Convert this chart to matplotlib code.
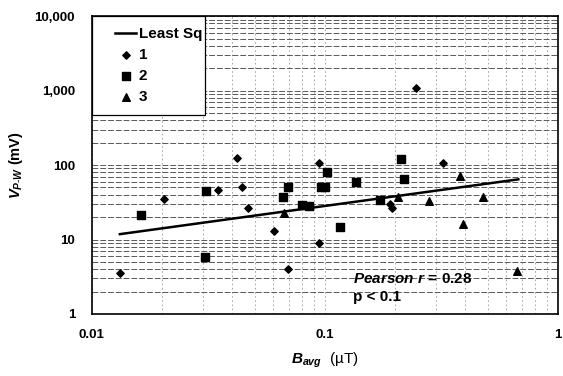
import numpy as np
import matplotlib
matplotlib.use("Agg")
import matplotlib.pyplot as plt
from matplotlib.patches import Rectangle

plt.rcParams['font.family'] = ['Liberation Sans', 'DejaVu Sans']
plt.rcParams['mathtext.fontset'] = 'custom'
plt.rcParams['mathtext.rm'] = 'Liberation Sans'
plt.rcParams['mathtext.it'] = 'Liberation Sans:italic:bold'
plt.rcParams['mathtext.bf'] = 'Liberation Sans:bold'

# series 1 (diamonds)
x1 = [0.0132, 0.0204, 0.0348, 0.0420, 0.0439, 0.0469, 0.0608, 0.0696,
      0.0942, 0.0942, 0.1905, 0.1946, 0.246, 0.322]
y1 = [3.52, 35.3, 46.2, 125, 51.1, 26.7, 13.0, 4.02,
      107, 9.06, 30.0, 26.2, 1070, 107]

# series 2 (squares)
x2 = [0.0162, 0.0308, 0.0306, 0.0661, 0.0692, 0.0799, 0.0853, 0.0963,
      0.1003, 0.102, 0.1167, 0.1355, 0.172, 0.213, 0.218]
y2 = [21.5, 45.2, 5.88, 36.8, 51.1, 29.0, 28.4, 51.1,
      51.1, 80.5, 14.9, 59.7, 33.6, 120, 64.3]

# series 3 (triangles)
x3 = [0.0668, 0.205, 0.281, 0.379, 0.393, 0.477, 0.666]
y3 = [22.5, 37.6, 33.2, 71.2, 16.0, 36.8, 3.81]

# least squares fit line end points
ls_x = [0.0132, 0.676]
ls_y = [11.8, 64.3]

fig = plt.figure(figsize=(5.63, 3.76), dpi=100)
ax = fig.add_axes([0.163, 0.165, 0.828, 0.792])

ax.set_xscale('log')
ax.set_yscale('log')
ax.set_xlim(0.01, 1)
ax.set_ylim(1, 10000)

ax.yaxis.grid(True, which='both', color='0.35', linestyle=(0, (6, 2)), linewidth=0.7)
ax.xaxis.grid(True, which='both', color='0.6', linestyle=(0, (2, 3)), linewidth=0.6)
ax.set_axisbelow(True)

ax.plot(ls_x, ls_y, color='black', linewidth=1.8, label='Least Sq', zorder=3)
ax.scatter(x1, y1, marker='D', s=14, color='black', label='1', zorder=4)
ax.scatter(x2, y2, marker='s', s=30, color='black', label='2', zorder=4)
ax.scatter(x3, y3, marker='^', s=30, color='black', label='3', zorder=4)

ax.set_xticks([0.01, 0.1, 1])
ax.set_xticklabels(['0.01', '0.1', '1'])
ax.set_yticks([1, 10, 100, 1000, 10000])
ax.set_yticklabels(['1', '10', '100', '1,000', '10,000'])
ax.tick_params(which='both', length=0, labelsize=9.5)
ax.tick_params(axis='x', pad=11)
ax.tick_params(axis='y', pad=12)
for lab in ax.get_xticklabels() + ax.get_yticklabels():
    lab.set_fontweight('bold')

ax.set_xlabel(r'$B_{avg}$  (µT)', fontsize=11, labelpad=7)
ax.set_ylabel(r'$V_{P\text{-}W}$ (mV)', fontsize=10.5, fontweight='bold', labelpad=7)

for sp in ax.spines.values():
    sp.set_linewidth(1.2)

# legend box (drawn separately so the text can sit off-centre like the original)
ax.add_patch(Rectangle((0, 0.668), 0.2425, 0.332, transform=ax.transAxes,
                       facecolor='white', edgecolor='black', linewidth=0.9, zorder=5))
leg = ax.legend(loc='upper left', bbox_to_anchor=(0.05, 0.962), borderaxespad=0,
                borderpad=0, frameon=False, handlelength=1.4,
                handletextpad=0.15, labelspacing=0.45,
                prop={'weight': 'bold', 'size': 11})
leg.set_zorder(6)

ax.text(0.56, 0.117, r'$\mathit{Pearson\ r}$ = 0.28', transform=ax.transAxes,
        fontsize=11, fontweight='bold', va='center')
ax.text(0.56, 0.057, 'p < 0.1', transform=ax.transAxes, fontsize=11,
        fontweight='bold', va='center')

fig.savefig('out.png', dpi=100)
